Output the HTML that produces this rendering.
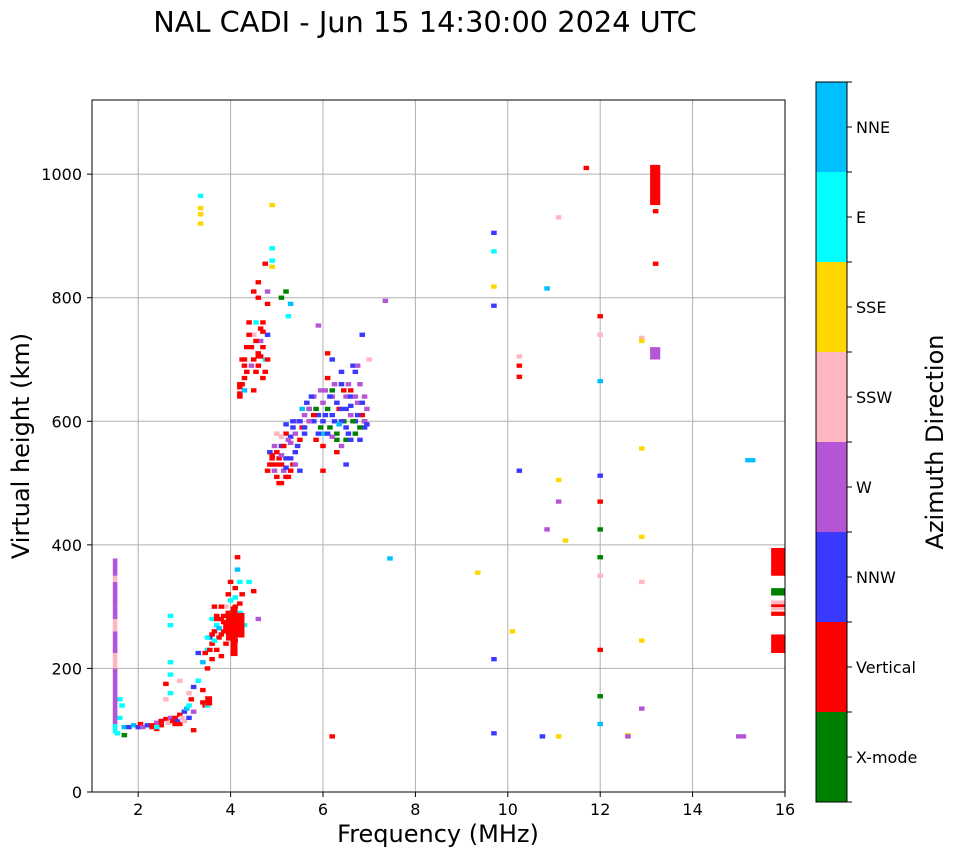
<!DOCTYPE html>
<html><head><meta charset="utf-8"><style>
body{margin:0;background:#fff;width:958px;height:857px;overflow:hidden}
svg{font-family:"DejaVu Sans","Liberation Sans",sans-serif}
</style></head><body>
<svg id="chart" width="958" height="857" viewBox="0 0 958 857" xmlns="http://www.w3.org/2000/svg">
<text x="425" y="32" font-size="28.8" text-anchor="middle">NAL CADI - Jun 15 14:30:00 2024 UTC</text>
<g id="grid"></g>
<g id="marks"></g>
<rect x="92" y="100" width="693" height="692" fill="none" stroke="#000" stroke-width="1"/>
<g id="axes"></g>
<text x="438" y="842" font-size="24" text-anchor="middle">Frequency (MHz)</text>
<text transform="translate(29,446) rotate(-90)" font-size="24" text-anchor="middle">Virtual height (km)</text>
<g id="cbar"></g>
<text transform="translate(943,442) rotate(-90)" font-size="24" text-anchor="middle">Azimuth Direction</text>
</svg>
<script>
const directions=["X-mode","Vertical","NNW","W","SSW","SSE","E","NNE"];
const dirColors=["#008000","#ff0000","#3a3aff","#b455d6","#ffb6c1","#ffd700","#00ffff","#00bfff"];
const xTicks=[2,4,6,8,10,12,14,16];
const yTicks=[0,200,400,600,800,1000];
// scatter echoes: frequency (MHz), virtual height (km), direction index
const freqs=[1.6,1.65,1.6,1.7,1.8,1.9,2.0,2.05,2.1,2.2,2.3,2.4,2.5,2.6,2.65,2.7,2.75,2.8,2.85,2.9,2.95,3.0,3.05,3.1,3.1,3.15,3.2,3.2,2.6,2.6,2.7,2.7,2.7,2.7,2.7,2.9,3.4,3.45,3.4,3.5,3.5,3.55,3.6,3.6,3.65,3.7,3.7,3.75,3.8,3.8,3.85,3.9,3.9,3.95,4.0,4.0,4.05,4.1,4.1,4.15,4.15,4.2,4.2,4.25,4.3,4.4,4.5,4.6,3.6,3.5,3.3,3.7,3.8,3.9,4.0,4.1,3.65,3.85,1.55,1.7,2.3,2.4,
4.2,4.2,4.25,4.3,4.35,4.4,4.45,4.5,4.5,4.55,4.6,4.6,4.65,4.7,4.7,4.75,4.8,4.8,4.5,4.6,4.9,4.9,4.9,4.9,4.75,4.8,5.1,5.2,5.3,5.25,3.35,3.35,3.35,3.35,4.2,4.3,4.6,4.7,
4.8,4.85,4.9,4.95,5.0,5.0,5.05,5.1,5.1,5.15,5.2,5.2,5.25,5.3,5.35,5.35,5.4,5.45,5.5,5.5,5.55,5.6,5.0,5.1,5.2,4.9,5.3,
5.6,5.7,5.75,5.8,5.85,5.9,5.95,6.0,6.0,6.05,6.1,6.15,6.2,6.2,6.25,6.3,6.35,6.4,6.4,6.45,6.5,6.5,6.55,6.6,6.6,6.65,6.7,6.75,6.8,6.8,6.85,6.9,6.95,7.0,6.5,6.3,6.0,6.1,6.85,7.35,5.9,6.7,6.9,6.4,6.6,6.2,6.0,5.8,5.7,
9.35,9.7,9.7,9.7,9.7,9.7,9.7,10.1,10.25,10.25,10.25,10.25,10.75,10.85,10.85,11.1,11.1,11.1,11.1,11.25,11.7,12.0,12.0,12.0,12.0,12.0,12.0,12.0,12.0,12.0,12.0,12.0,12.6,12.6,12.9,12.9,12.9,12.9,12.9,12.9,12.9,13.2,13.2,7.45,15.0,15.1,15.2,15.3,6.2,
4.2,4.25,4.3,4.35,4.4,4.45,4.5,4.55,4.6,4.65,4.7,4.75,4.8,4.3,4.55,4.65,
4.85,4.9,4.95,5.0,5.05,5.1,5.15,5.2,5.25,5.3,5.35,5.4,5.45,5.5,5.55,5.6,5.65,5.7,5.75,5.8,5.85,5.9,5.95,5.1,5.2,5.3,5.4,
6.0,6.05,6.1,6.15,6.2,6.25,6.3,6.35,6.4,6.45,6.5,6.55,6.6,6.65,6.7,6.75,6.8,6.85,6.9,6.95,6.3,6.5,6.7,6.2,6.1,6.6,6.4,6.75,6.9,
3.5,3.55,3.6,3.65,3.7,3.75,3.8,3.85,3.9,3.95,4.0,4.05,4.1,4.15,4.2,3.4,3.45,3.3,3.2,2.9,2.8,2.5,2.4,3.0,3.1];
const heights=[150,140,120,105,105,108,105,110,105,108,105,112,115,118,112,120,115,120,115,125,120,130,135,140,160,150,170,100,150,175,270,285,210,190,160,180,145,140,165,140,230,250,215,240,260,270,230,250,280,220,260,240,300,290,270,310,260,330,300,380,360,340,290,320,270,340,325,280,280,200,225,285,255,265,290,245,300,275,95,92,108,102,
640,655,700,670,720,760,690,650,740,680,710,800,730,760,670,700,740,790,810,825,860,880,850,950,855,810,800,810,790,770,920,935,965,945,660,690,705,745,
520,550,530,560,510,580,540,500,560,520,580,540,510,565,590,530,550,600,570,520,590,610,530,545,525,540,575,
580,620,600,640,570,610,590,630,560,610,670,590,640,700,600,580,620,660,560,600,640,620,580,650,610,690,600,630,570,660,610,590,620,700,530,550,520,710,740,795,755,680,600,600,640,650,580,600,620,
355,905,875,818,787,215,95,260,520,705,690,672,90,815,425,90,930,505,470,407,1010,770,740,665,512,470,425,380,350,230,155,110,92,90,735,730,556,413,340,245,135,940,855,378,90,90,537,537,90,
645,660,700,680,740,720,700,760,690,750,720,680,700,650,730,705,
530,545,520,550,500,530,560,510,570,540,600,580,560,600,620,590,630,600,640,610,620,580,650,575,595,520,530,
600,650,620,640,610,660,630,595,620,650,590,660,625,600,640,610,590,630,600,595,570,570,580,575,580,570,680,690,640,
250,230,255,245,280,265,300,285,270,320,340,290,315,275,305,210,225,180,130,110,110,108,105,115,120];
const dirs=[6,6,6,7,2,7,2,1,3,2,1,3,1,1,4,3,1,1,2,1,4,2,7,6,4,1,2,1,4,1,6,6,6,6,6,4,1,1,1,6,6,2,1,1,1,6,1,1,1,1,1,1,4,1,1,6,1,1,1,1,7,6,6,1,6,6,1,3,6,1,2,1,1,1,1,1,1,1,6,0,1,1,
1,1,1,1,1,1,3,1,4,1,1,1,3,1,1,6,2,1,1,1,6,6,5,5,1,3,0,0,7,6,5,5,6,5,1,1,1,1,
1,2,1,3,1,4,1,1,2,3,1,2,1,3,2,1,2,3,1,2,1,3,1,3,2,1,2,
2,0,2,3,1,2,0,3,1,2,1,0,3,2,2,0,1,2,3,0,3,2,2,1,3,2,2,3,2,3,1,2,3,4,2,1,1,1,2,3,3,2,0,2,2,0,7,2,3,
5,2,6,5,2,2,2,5,2,4,1,1,2,7,3,5,4,5,3,5,1,1,4,7,2,1,0,0,4,1,0,7,5,3,4,5,5,5,4,5,3,1,1,7,3,3,7,7,1,
1,1,1,1,1,1,1,6,1,1,1,1,1,7,1,1,
1,1,3,1,1,1,1,1,3,2,2,3,2,2,7,2,2,3,2,1,0,2,3,4,2,1,3,
2,3,0,2,2,3,2,7,2,1,2,3,2,0,3,2,0,2,3,2,0,0,0,3,2,2,2,3,3,
6,1,1,6,1,7,1,1,1,1,1,7,6,6,1,7,1,6,3,1,1,1,6,4,2];
// larger echo blocks: freq start/end, height start/end, direction
const blockF0=[1.45,1.45,1.45,1.45,1.45,1.45,1.45,1.45,1.45,13.08,13.08,15.7,15.7,15.7,15.7,15.7,15.7,15.7,4.12,3.9,3.45,4.0];
const blockF1=[1.55,1.55,1.55,1.55,1.55,1.55,1.55,1.55,1.55,13.3,13.3,16,16,16,16,16,16,16,4.3,4.1,3.6,4.15];
const blockH0=[95,110,200,225,260,280,300,340,350,700,950,225,285,294,299,304,318,350,250,245,140,220];
const blockH1=[110,200,225,260,280,300,340,350,378,720,1015,255,292,298,304,310,330,395,290,290,155,300];
const blockDir=[6,3,4,3,4,3,3,4,3,3,1,1,1,4,1,4,0,1,1,1,1,1];

const NS="http://www.w3.org/2000/svg";
const X0=92,X1=785,Y0=792,Y1=100,FMIN=1,FMAX=16,HMIN=0,HMAX=1120;
const xs=f=>X0+(f-FMIN)/(FMAX-FMIN)*(X1-X0);
const ys=h=>Y0-(h-HMIN)/(HMAX-HMIN)*(Y0-Y1);
function mk(tag,attrs,parent){const e=document.createElementNS(NS,tag);for(const k in attrs)e.setAttribute(k,attrs[k]);parent.appendChild(e);return e;}
const grid=document.getElementById('grid'),axes=document.getElementById('axes'),marks=document.getElementById('marks'),cbar=document.getElementById('cbar');
xTicks.forEach(t=>{const x=xs(t);
 const g=mk('line',{x1:x,x2:x,y1:Y1,y2:Y0,stroke:'#b0b0b0','stroke-width':1},grid);
 
 mk('line',{x1:x,x2:x,y1:Y0,y2:Y0+5,stroke:'#000'},axes);
 const l=mk('text',{x:x,y:Y0+23,'font-size':16,'text-anchor':'middle'},axes);l.textContent=t;
 });
yTicks.forEach(t=>{const y=ys(t);
 const g=mk('line',{x1:X0,x2:X1,y1:y,y2:y,stroke:'#b0b0b0','stroke-width':1},grid);
 
 mk('line',{x1:X0-5,x2:X0,y1:y,y2:y,stroke:'#000'},axes);
 const l=mk('text',{x:X0-10,y:y+6,'font-size':16,'text-anchor':'end'},axes);l.textContent=t;
 });
const W=0.12,H=7;
freqs.forEach((f,i)=>{const x=xs(f-W/2),y=ys(heights[i]+H/2);
 const r=mk('rect',{x:x,y:y,width:xs(f+W/2)-x,height:ys(heights[i]-H/2)-y,fill:dirColors[dirs[i]]},marks);
 
 });
blockF0.forEach((f,i)=>{const x=xs(f),y=ys(blockH1[i]);
 const r=mk('rect',{x:x,y:y,width:xs(blockF1[i])-x,height:ys(blockH0[i])-y,fill:dirColors[blockDir[i]]},marks);
 
 });
const CX=816,CW=31,CT=82,CB=802,bh=(CB-CT)/directions.length;
directions.forEach((d,i)=>{const y=CB-(i+1)*bh;
 const r=mk('rect',{x:CX,y:y,width:CW,height:bh,fill:dirColors[i]},cbar);
 
 
 mk('line',{x1:CX+CW,x2:CX+CW+5,y1:y+bh/2,y2:y+bh/2,stroke:'#000'},cbar);
 const l=mk('text',{x:CX+CW+9,y:y+bh/2+6,'font-size':16},cbar);l.textContent=d;
 
 });
for(let i=0;i<=directions.length;i++){const y=CB-i*bh;mk('line',{x1:CX+CW,x2:CX+CW+5,y1:y,y2:y,stroke:'#000'},cbar);}
mk('rect',{x:CX,y:CT,width:CW,height:CB-CT,fill:'none',stroke:'#000'},cbar);
</script>
</body></html>
